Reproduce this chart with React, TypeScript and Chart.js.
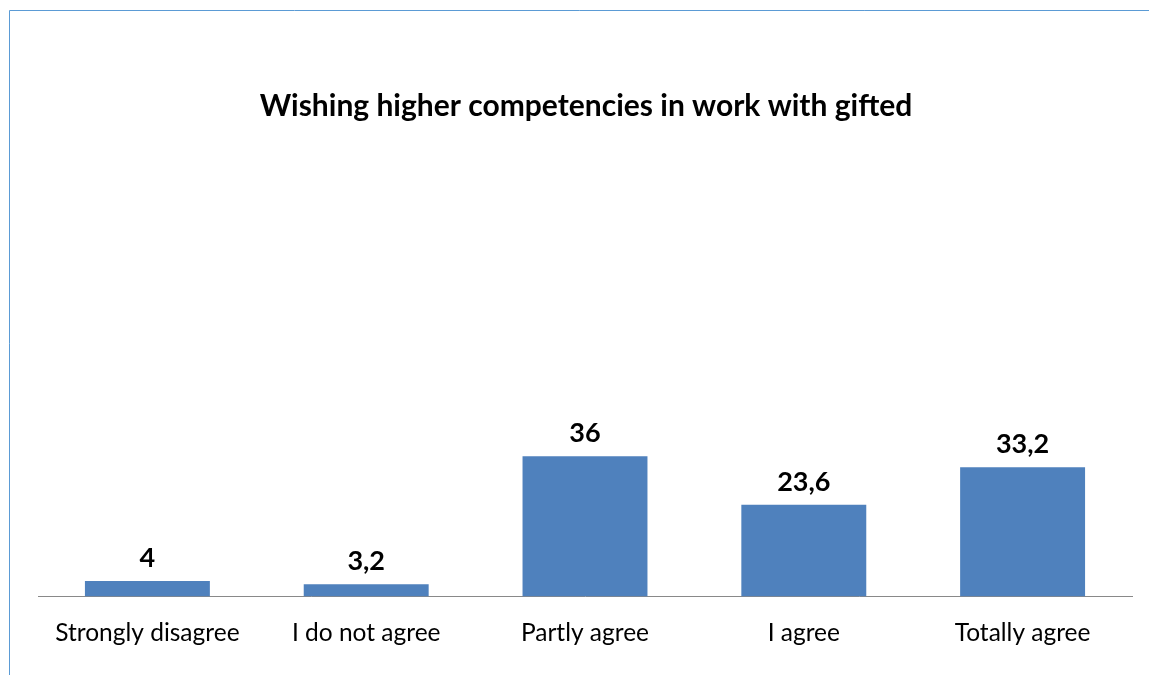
import React, { useEffect, useRef } from "react";
import { Chart, registerables } from "chart.js";

Chart.register(...registerables);

const categories = ["Strongly disagree", "I do not agree", "Partly agree", "I agree", "Totally agree"];
const values = [4, 3.2, 36, 23.6, 33.2];
const valueLabels = ["4", "3,2", "36", "23,6", "33,2"];
const chartTitle = "Wishing higher competencies in work with gifted";

const FONT = "Lato, 'Open Sans', sans-serif";

const decorPlugin = {
  id: "decor",
  afterDraw(chart: any) {
    const ctx = chart.ctx;
    ctx.save();
    // outer frame
    ctx.strokeStyle = "#5B9BD5";
    ctx.lineWidth = 1;
    ctx.beginPath();
    ctx.moveTo(9.5, 700);
    ctx.lineTo(9.5, 10.5);
    ctx.lineTo(1200, 10.5);
    ctx.stroke();
    // title
    ctx.fillStyle = "#000000";
    ctx.font = `bold 30px ${FONT}`;
    ctx.textAlign = "center";
    ctx.textBaseline = "alphabetic";
    ctx.fillText(chartTitle, 586, 116);
    // value labels
    ctx.font = `bold 27px ${FONT}`;
    const meta = chart.getDatasetMeta(0);
    meta.data.forEach((bar: any, i: number) => {
      ctx.fillText(valueLabels[i], bar.x, bar.y - 14);
    });
    ctx.restore();
  },
};

export default function App() {
  const ref = useRef<HTMLCanvasElement | null>(null);
  useEffect(() => {
    if (!ref.current) return;
    const chart = new Chart(ref.current, {
      type: "bar",
      data: {
        labels: categories,
        datasets: [
          {
            data: values,
            backgroundColor: "#4F81BD",
            categoryPercentage: 1,
            barPercentage: 0.571,
          },
        ],
      },
      options: {
        animation: false,
        responsive: false,
        maintainAspectRatio: false,
        layout: { padding: { top: 207, left: 38, right: 17, bottom: 5 } },
        plugins: {
          legend: { display: false },
          tooltip: { enabled: false },
          title: { display: false },
        },
        scales: {
          x: {
            grid: { display: false, drawTicks: false },
            border: { display: true, color: "#898989", width: 1 },
            ticks: { color: "#000000", font: { family: FONT, size: 24.5 }, padding: 22 },
          },
          y: {
            display: false,
            min: 0,
            max: 100,
          },
        },
      },
      plugins: [decorPlugin],
    });
    return () => chart.destroy();
  }, []);
  return (
    <div style={{ position: "fixed", left: 0, top: 0, width: 1149, height: 675, background: "#fff" }}>
      <canvas ref={ref} width={1149} height={675} style={{ display: "block" }} />
    </div>
  );
}
